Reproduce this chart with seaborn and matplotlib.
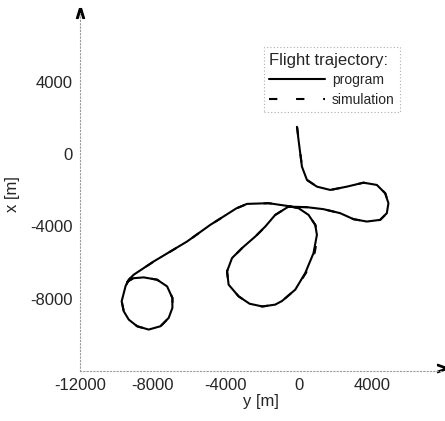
import pandas as pd
import matplotlib.pyplot as plt
import seaborn as sns

sns.set_theme(style="white")
plt.rcParams['font.family'] = ['Liberation Sans', 'DejaVu Sans']
plt.rcParams['axes.unicode_minus'] = False

# trajectory: y (east) and x (north), metres
prog_y = [-104, -16, 77, 170, 444, 991, 1720, 2634, 3544, 4278, 4732, 4913, 4825, 4458, 3730, 2996, 2267, 1353, 444, -564,
          -1293, -1840, -2388, -3116, -3664, -3938, -3850, -3303, -2700, -2000, -1300, -926, -197, 351, 805, 991, 898, 531, -16, -564,
          -1660, -2843, -3429, -4031, -4853, -6129, -7958, -9054, -9327,
          -9500, -9716, -9601, -9327, -8867, -8232, -7591, -7137, -6934, -6934, -7224, -7772, -8506, -9070, -9400]
prog_x = [1506, 772, 39, -700, -1434, -1804, -1986, -1804, -1583, -1710, -2168, -2719, -3271, -3641, -3734, -3602, -3271, -3050, -2940, -2907,
          -3365, -4010, -4562, -5202, -5754, -6492, -7226, -7871, -8280, -8430, -8330, -8130, -7502, -6581, -5478, -4468, -3916, -3365, -2995, -2880,
          -2719, -2758, -3006, -3392, -3916, -4837, -5941, -6674, -6950,
          -7300, -8147, -8699, -9157, -9526, -9708, -9526, -9063, -8511, -7960, -7320, -6950, -6823, -6868, -7050]

sim_y = [-90, -10, 80, 175, 450, 995, 1725, 2640, 3550, 4285, 4740, 4920, 4830, 4460, 3735, 3000, 2270, 1355, 446, -560,
         -1290, -1835, -2385, -3110, -3660, -3935, -3848, -3300, -2698, -1998, -1298, -920, -180, 400, 870, 1040, 910, 535, -12, -560,
         -1655, -2840, -3425, -4028, -4850, -6125, -7955, -9050, -9320,
         -9495, -9712, -9598, -9322, -8862, -8228, -7588, -7132, -6930, -6930, -7220, -7768, -8500, -9065, -9395]
sim_x = [1480, 760, 35, -702, -1436, -1806, -1988, -1806, -1585, -1712, -2170, -2721, -3273, -3643, -3736, -3604, -3273, -3052, -2942, -2909,
         -3367, -4012, -4564, -5204, -5756, -6494, -7228, -7873, -8282, -8432, -8332, -8135, -7480, -6560, -5450, -4500, -3930, -3370, -2997, -2882,
         -2721, -2760, -3008, -3394, -3918, -4839, -5943, -6676, -6952,
         -7302, -8149, -8701, -9159, -9528, -9710, -9528, -9065, -8513, -7962, -7322, -6952, -6825, -6870, -7052]

x_ticks = [-12000, -8000, -4000, 0, 4000]
y_ticks = [-8000, -4000, 0, 4000]

prog = pd.DataFrame({'y': prog_y, 'x': prog_x})
sim = pd.DataFrame({'y': sim_y, 'x': sim_x})

fig = plt.figure(figsize=(4.45, 4.21), dpi=100)
ax = fig.add_axes([80 / 445, 50 / 421, 362 / 445, 358 / 421])

sns.lineplot(data=prog, x='y', y='x', sort=False, estimator=None, color='black', lw=1.5,
             solid_joinstyle='round', ax=ax, label='program')
sns.lineplot(data=sim, x='y', y='x', sort=False, estimator=None, color='black', lw=1.5,
             linestyle=(0, (4, 9)), ax=ax, label='simulation')

ax.set_xlim(-12000, 7850)
ax.set_ylim(-12000, 7800)
ax.set_xticks(x_ticks)
ax.set_yticks(y_ticks)
ax.tick_params(labelsize=12, length=2, color='0.6', pad=3)
ax.set_xlabel('y [m]', fontsize=12, labelpad=1)
ax.set_ylabel('x [m]', fontsize=12)
ax.yaxis.set_label_coords(-0.165, 0.495)

for side in ['top', 'right']:
    ax.spines[side].set_visible(False)
for side in ['left', 'bottom']:
    ax.spines[side].set_color('0.6')
    ax.spines[side].set_linestyle((0, (1, 2)))
    ax.spines[side].set_linewidth(0.8)

# open arrow heads at the axis ends
ax.plot([1.0], [0.008], marker='$>$', ms=7, color='black', transform=ax.transAxes, clip_on=False)
ax.plot([0], [1], marker='$\\wedge$', ms=7, color='black', transform=ax.transAxes, clip_on=False)

leg = ax.legend(title='Flight trajectory:', loc='upper right',
                bbox_to_anchor=(400 / 445, 1 - 47 / 421), bbox_transform=fig.transFigure,
                borderaxespad=0, fontsize=10, title_fontsize=12, handlelength=4.0,
                alignment='left', frameon=True, fancybox=False, labelspacing=0.4,
                borderpad=0.4, handletextpad=0.5)
leg.get_frame().set_edgecolor('0.6')
leg.get_frame().set_linestyle((0, (1, 2)))
leg.get_frame().set_linewidth(0.8)

plt.savefig('out.png', dpi=100)
